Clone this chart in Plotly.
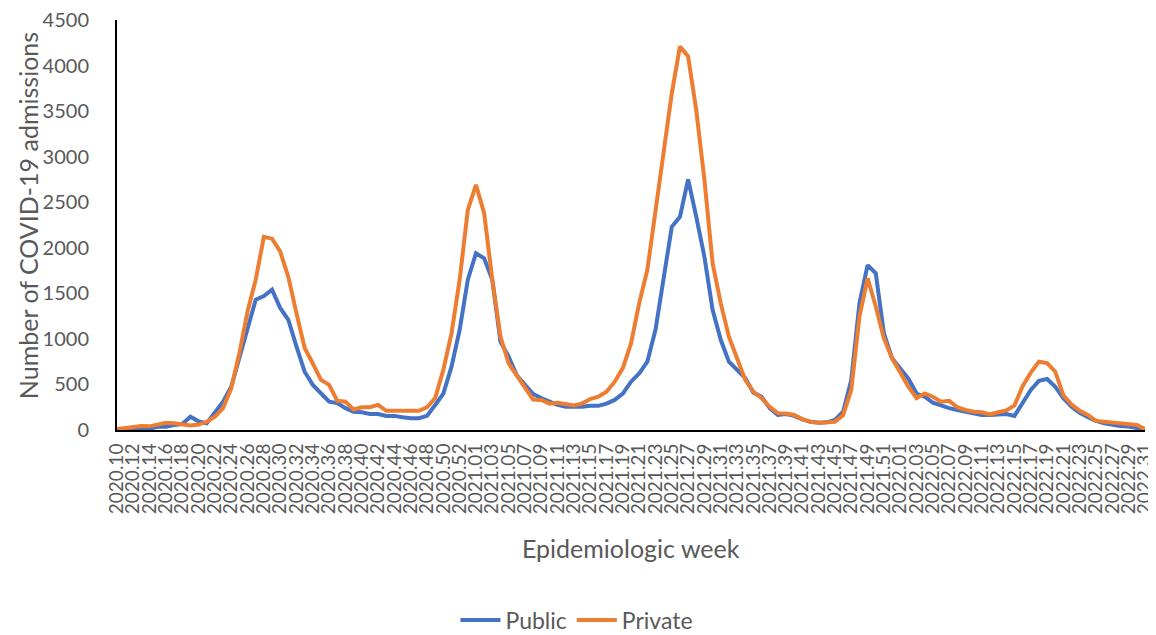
import plotly.graph_objects as go

weeks = [
    "2020.10", "2020.11", "2020.12", "2020.13", "2020.14", "2020.15", "2020.16", "2020.17", "2020.18", "2020.19",
    "2020.20", "2020.21", "2020.22", "2020.23", "2020.24", "2020.25", "2020.26", "2020.27", "2020.28", "2020.29",
    "2020.30", "2020.31", "2020.32", "2020.33", "2020.34", "2020.35", "2020.36", "2020.37", "2020.38", "2020.39",
    "2020.40", "2020.41", "2020.42", "2020.43", "2020.44", "2020.45", "2020.46", "2020.47", "2020.48", "2020.49",
    "2020.50", "2020.51", "2020.52", "2020.53",
    "2021.01", "2021.02", "2021.03", "2021.04", "2021.05", "2021.06", "2021.07", "2021.08", "2021.09", "2021.10",
    "2021.11", "2021.12", "2021.13", "2021.14", "2021.15", "2021.16", "2021.17", "2021.18", "2021.19", "2021.20",
    "2021.21", "2021.22", "2021.23", "2021.24", "2021.25", "2021.26", "2021.27", "2021.28", "2021.29", "2021.30",
    "2021.31", "2021.32", "2021.33", "2021.34", "2021.35", "2021.36", "2021.37", "2021.38", "2021.39", "2021.40",
    "2021.41", "2021.42", "2021.43", "2021.44", "2021.45", "2021.46", "2021.47", "2021.48", "2021.49", "2021.50",
    "2021.51", "2021.52",
    "2022.01", "2022.02", "2022.03", "2022.04", "2022.05", "2022.06", "2022.07", "2022.08", "2022.09", "2022.10",
    "2022.11", "2022.12", "2022.13", "2022.14", "2022.15", "2022.16", "2022.17", "2022.18", "2022.19", "2022.20",
    "2022.21", "2022.22", "2022.23", "2022.24", "2022.25", "2022.26", "2022.27", "2022.28", "2022.29", "2022.30",
    "2022.31",
]

public = [
    5, 15, 15, 20, 15, 35, 35, 55, 65, 145,
    95, 75, 190, 310, 475, 790, 1100, 1430, 1470, 1540,
    1340, 1210, 915, 640, 495, 400, 310, 295, 240, 200,
    195, 175, 175, 155, 155, 140, 128, 130, 155, 275,
    400, 695, 1100, 1650,
    1940, 1885, 1650, 970, 805, 600, 495, 395, 350, 310,
    275, 255, 250, 255, 265, 265, 290, 330, 400, 530,
    620, 750, 1100, 1680, 2230, 2340, 2750, 2340, 1900, 1320,
    990, 750, 660, 570, 410, 365, 240, 165, 175, 155,
    117, 90, 80, 84, 110, 200, 550, 1390, 1810, 1720,
    1060, 787,
    675, 565, 400, 365, 300, 265, 240, 220, 200, 175,
    165, 165, 170, 175, 155, 290, 440, 540, 560, 475,
    350, 255, 190, 140, 100, 73, 55, 44, 37, 26,
    7,
]

private = [
    10, 20, 30, 45, 40, 65, 80, 75, 60, 50,
    60, 90, 145, 240, 457, 842, 1300, 1650, 2120, 2100,
    1960, 1680, 1280, 900, 730, 550, 495, 320, 310, 225,
    250, 250, 275, 210, 210, 210, 205, 210, 250, 350,
    660, 1060, 1650, 2415,
    2690, 2380, 1650, 1025, 730, 600, 460, 335, 330, 290,
    300, 285, 270, 290, 340, 365, 420, 530, 680, 950,
    1390, 1755, 2415, 3040, 3695, 4210, 4100, 3510, 2745, 1830,
    1390, 1025, 785, 550, 420, 350, 255, 185, 180, 165,
    120, 90, 80, 84, 90, 165, 440, 1245, 1665, 1355,
    1005, 787,
    620, 475, 350, 400, 365, 310, 320, 250, 220, 200,
    195, 170, 195, 215, 270, 480, 630, 750, 735, 640,
    380, 280, 210, 165, 100, 90, 90, 73, 66, 55,
    10,
]

y_ticks = [0, 500, 1000, 1500, 2000, 2500, 3000, 3500, 4000, 4500]

FONT = "Lato, Carlito, Calibri, sans-serif"
GREY = "#595959"

fig = go.Figure()
fig.add_trace(go.Scatter(x=weeks, y=public, mode="lines", name="Public",
                         line=dict(color="#4472C4", width=4)))
fig.add_trace(go.Scatter(x=weeks, y=private, mode="lines", name="Private",
                         line=dict(color="#ED7D31", width=4)))

# the page body adds an 8px offset, so the figure is 8px smaller and margins shifted
fig.update_layout(
    width=1148, height=627,
    margin=dict(l=109, r=11, t=12, b=205, autoexpand=False),
    paper_bgcolor="white", plot_bgcolor="white",
    font=dict(family=FONT, color=GREY, size=20),
    showlegend=True,
    legend=dict(orientation="h", xref="container", yref="container",
                x=0.4956, y=0.024, xanchor="center", yanchor="middle",
                font=dict(size=23, color=GREY), itemwidth=40, bgcolor="rgba(0,0,0,0)"),
    xaxis=dict(type="category", categoryorder="array", categoryarray=weeks,
               range=[0, len(weeks) - 1],
               tickmode="array", tickvals=weeks[::2], ticktext=weeks[::2],
               tickangle=-90, tickfont=dict(size=19, color=GREY),
               showgrid=False, zeroline=False, showline=True, linecolor="black", linewidth=2,
               ticks="", ticklabelstandoff=4, automargin=False, ticklabeloverflow="allow"),
    yaxis=dict(range=[0, 4500], tickmode="array", tickvals=y_ticks,
               tickfont=dict(size=20, color=GREY),
               showgrid=False, zeroline=False, showline=True, linecolor="black", linewidth=2,
               ticks="", ticklabelstandoff=22, automargin=False, ticklabeloverflow="allow"),
    annotations=[
        dict(text="Epidemiologic week", xref="paper", yref="paper", x=0.5, y=-0.288,
             xanchor="center", yanchor="middle", showarrow=False,
             font=dict(size=25, color=GREY, family=FONT)),
        dict(text="Number of COVID-19 admissions", xref="paper", yref="paper", x=-0.0866, y=0.524,
             xanchor="center", yanchor="middle", showarrow=False, textangle=-90,
             font=dict(size=25, color=GREY, family=FONT)),
    ],
)

fig.write_html("out.html")
